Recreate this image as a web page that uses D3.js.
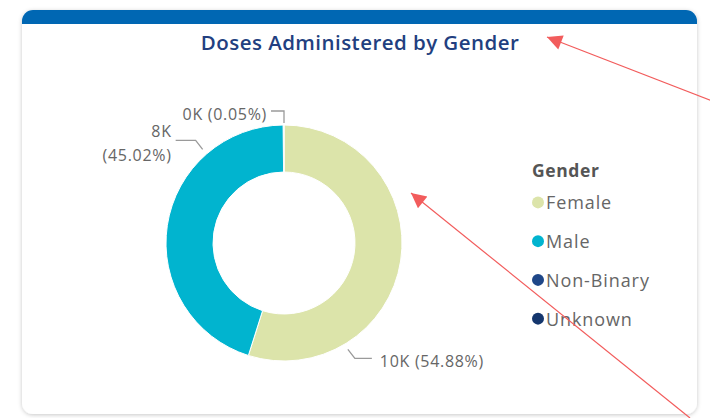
<!DOCTYPE html>
<html>
<head>
<meta charset="utf-8">
<script src="https://cdn.jsdelivr.net/npm/d3@7"></script>
<style>
  html, body { margin: 0; padding: 0; background: #ffffff; }
  svg { display: block; font-family: "Segoe UI", "Open Sans", "Noto Sans", sans-serif; }
</style>
</head>
<body>
<div id="chart"></div>
<script>
// data
const categories = ['Female', 'Male', 'Non-Binary', 'Unknown'];
const doses = [10040, 8236, 9, 9];
const colors = ['#dce4aa', '#01b4cf', '#1f4788', '#14366d'];
const title = 'Doses Administered by Gender';
const legendTitle = 'Gender';

const W = 710, H = 418;
const svg = d3.select('#chart').append('svg')
  .attr('width', W)
  .attr('height', H);

const defs = svg.append('defs');
const shadow = defs.append('filter').attr('id', 'shadow')
  .attr('x', -0.05).attr('y', -0.05).attr('width', 1.1).attr('height', 1.1);
shadow.append('feDropShadow')
  .attr('dx', 0).attr('dy', 1).attr('stdDeviation', 2.2)
  .attr('flood-color', '#000').attr('flood-opacity', 0.22);
defs.append('clipPath').attr('id', 'cardClip')
  .append('rect')
  .attr('x', 22).attr('y', 10).attr('width', 675).attr('height', 404).attr('rx', 11);

// card
svg.append('rect')
  .attr('x', 22).attr('y', 10).attr('width', 675).attr('height', 404).attr('rx', 11)
  .attr('fill', '#ffffff')
  .attr('filter', 'url(#shadow)');
svg.append('rect')
  .attr('clip-path', 'url(#cardClip)')
  .attr('x', 22).attr('y', 10).attr('width', 675).attr('height', 14)
  .attr('fill', '#0067b3');

svg.append('text')
  .attr('x', 360)
  .attr('y', 50)
  .attr('text-anchor', 'middle')
  .style('font-size', '20.5px')
  .style('font-weight', 600)
  .style('letter-spacing', '0.45px')
  .style('fill', '#223f80')
  .text(title);

// donut
const cx = 284, cy = 243;
const rOuter = 118, rInner = 71;
const g = svg.append('g').attr('transform', `translate(${cx},${cy})`);

const total = d3.sum(doses);
const pie = d3.pie().sort(null).value(d => d.v);
const arcs = pie(categories.map((c, i) => ({ c, v: doses[i], i })));
const arc = d3.arc().innerRadius(rInner).outerRadius(rOuter);

g.selectAll('path.slice')
  .data(arcs)
  .enter()
  .append('path')
  .attr('class', 'slice')
  .attr('d', arc)
  .attr('fill', d => colors[d.data.i])
  .attr('stroke', '#ffffff')
  .attr('stroke-width', 1);

// data labels: label anchor angle (deg), elbow offset, text lines
const fmtK = v => Math.round(v / 1000) + 'K';
const fmtPct = v => '(' + (v / total * 100).toFixed(2) + '%)';
const labelSpec = [
  { i: 0, angle: 149, out: 6, elbow: [7, 9], run: 17, gap: 8, lines: d => [fmtK(d) + ' ' + fmtPct(d)] },
  { i: 1, angle: 319, out: 6, elbow: [-7, -9], run: -20, gap: 4, lines: d => [fmtK(d), fmtPct(d)] },
  { i: 2, angle: 0, out: 2, elbow: [0, -12], run: -13, gap: 4, lines: d => [fmtK(d) + ' ' + fmtPct(d)] }
];

const toXY = (deg, r) => {
  const a = deg * Math.PI / 180;
  return [Math.sin(a) * r, -Math.cos(a) * r];
};

for (const s of labelSpec) {
  const v = doses[s.i];
  const p0 = toXY(s.angle, rOuter + s.out);
  const p1 = [p0[0] + s.elbow[0], p0[1] + s.elbow[1]];
  const p2 = [p1[0] + s.run, p1[1]];
  g.append('path')
    .attr('d', d3.line()([p0, p1, p2]))
    .attr('fill', 'none')
    .attr('stroke', '#9a9a9a')
    .attr('stroke-width', 1.3);
  const lines = s.lines(v);
  const right = s.run > 0;
  const tx = p2[0] + (right ? s.gap : -s.gap);
  const lineH = 24;
  const y0 = p2[1] + 3 - (lines.length - 1) * lineH / 2;
  const t = g.append('text')
    .attr('text-anchor', right ? 'start' : 'end')
    .style('font-size', '16px')
    .style('letter-spacing', '0.7px')
    .style('fill', '#666666');
  lines.forEach((ln, k) => {
    t.append('tspan')
      .attr('x', tx)
      .attr('y', y0 + k * lineH)
      .attr('dominant-baseline', 'central')
      .text(ln);
  });
}

// legend
const legend = svg.append('g').attr('transform', 'translate(532,170)');
legend.append('text')
  .attr('x', 0)
  .attr('y', 0)
  .attr('dominant-baseline', 'central')
  .style('font-size', '17.5px')
  .style('font-weight', 700)
  .style('letter-spacing', '0.6px')
  .style('fill', '#555555')
  .text(legendTitle);
const ly = d3.scaleBand().domain(categories).range([13, 168]);
for (const [i, c] of categories.entries()) {
  const y = ly(c) + ly.bandwidth() / 2;
  legend.append('circle')
    .attr('cx', 6)
    .attr('cy', y)
    .attr('r', 6)
    .attr('fill', colors[i]);
  legend.append('text')
    .attr('x', 14)
    .attr('y', y)
    .attr('dominant-baseline', 'central')
    .style('font-size', '18px')
    .style('letter-spacing', '0.9px')
    .style('fill', '#666666')
    .text(c);
}

// red annotation arrows drawn over the screenshot
defs.append('marker')
  .attr('id', 'redhead')
  .attr('markerUnits', 'userSpaceOnUse')
  .attr('viewBox', '0 0 10 10')
  .attr('refX', 10).attr('refY', 5)
  .attr('markerWidth', 18).attr('markerHeight', 15)
  .attr('orient', 'auto')
  .append('path')
  .attr('d', 'M0,0 L10,5 L0,10 Z')
  .attr('fill', '#f25c5c');
const arrows = [
  [[712, 101], [547, 37]],
  [[690, 418], [411, 193]]
];
for (const a of arrows) {
  svg.append('line')
    .attr('x1', a[0][0]).attr('y1', a[0][1])
    .attr('x2', a[1][0]).attr('y2', a[1][1])
    .attr('stroke', '#f25c5c')
    .attr('stroke-width', 1.2)
    .attr('marker-end', 'url(#redhead)');
}
</script>
</body>
</html>
